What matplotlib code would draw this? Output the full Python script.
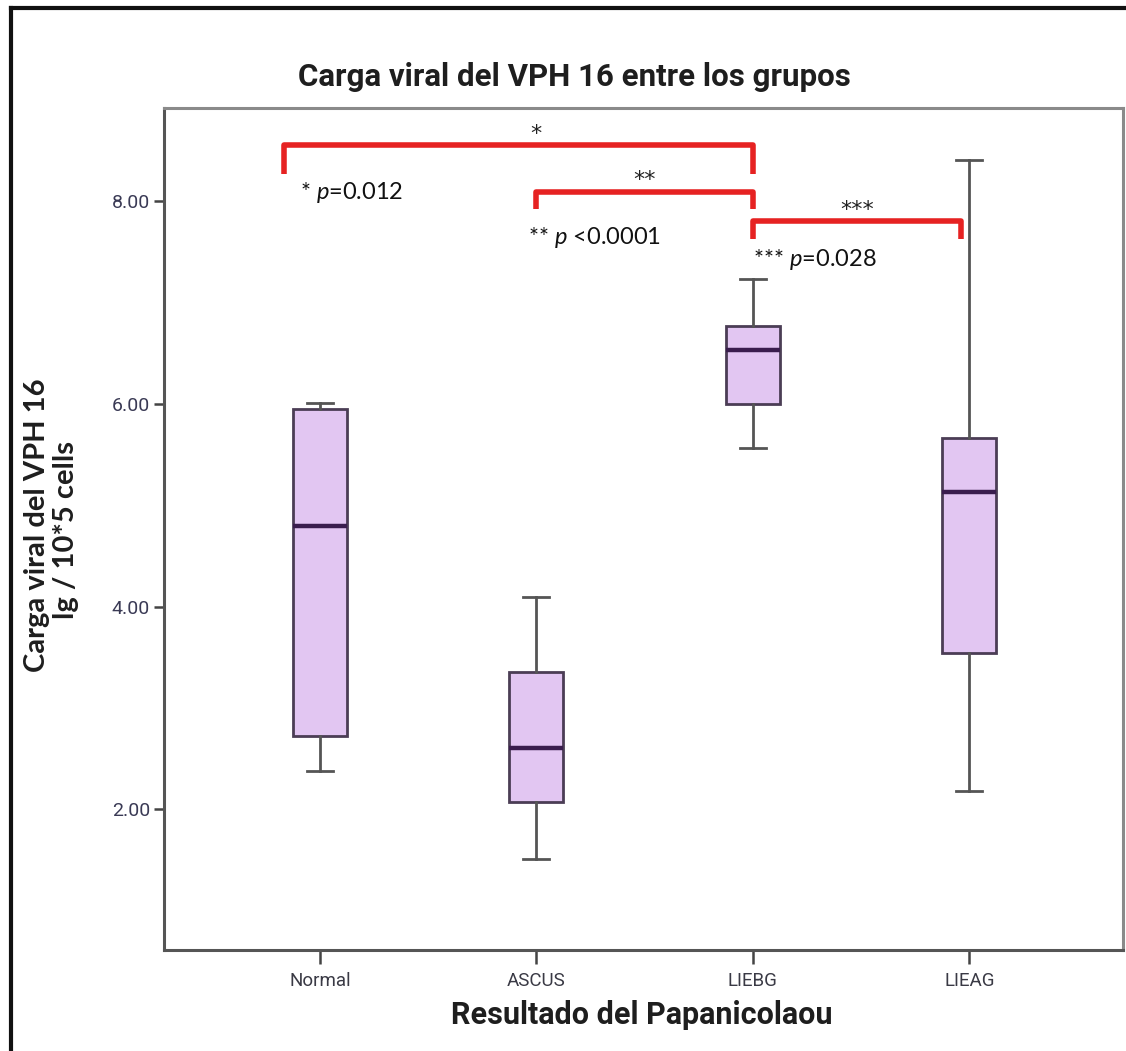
import matplotlib
matplotlib.use("Agg")
import matplotlib.pyplot as plt
from matplotlib.lines import Line2D

# ---- data ----
categories = ["Normal", "ASCUS", "LIEBG", "LIEAG"]
whisker_low = [2.38, 1.51, 5.56, 2.18]
q1 = [2.72, 2.07, 6.00, 3.54]
median = [4.79, 2.60, 6.53, 5.13]
q3 = [5.95, 3.35, 6.77, 5.66]
whisker_high = [6.01, 4.09, 7.23, 8.41]
y_ticks = [2.0, 4.0, 6.0, 8.0]
y_tick_labels = ["2.00", "4.00", "6.00", "8.00"]

plt.rcParams['mathtext.fontset'] = 'custom'
plt.rcParams['mathtext.rm'] = 'Lato'
plt.rcParams['mathtext.it'] = 'Lato:italic'

W, H = 1126, 1051
fig = plt.figure(figsize=(W / 100, H / 100), dpi=100)
fig.patch.set_facecolor('white')

ax = fig.add_axes([164 / W, 1 - 950 / H, (1123 - 164) / W, (950 - 108) / H])

stats = []
for i, c in enumerate(categories):
    stats.append(dict(label=c, whislo=whisker_low[i], q1=q1[i], med=median[i],
                      q3=q3[i], whishi=whisker_high[i], fliers=[]))

pos = list(range(len(categories)))
ax.bxp(stats, positions=pos, widths=0.25, capwidths=0.12, patch_artist=True,
       showfliers=False,
       boxprops=dict(facecolor='#e2c6f2', edgecolor='#4b3d55', linewidth=2),
       medianprops=dict(color='#3a1d4e', linewidth=3.2),
       whiskerprops=dict(color='#555555', linewidth=2),
       capprops=dict(color='#555555', linewidth=2))

ax.set_xlim(-0.72, 3.71)
ax.set_ylim(0.61, 8.92)
ax.set_yticks(y_ticks)
ax.set_yticklabels(y_tick_labels)
ax.set_xticks(pos)
ax.set_xticklabels(categories)

for lbl in ax.get_yticklabels():
    lbl.set_fontfamily('Roboto')
    lbl.set_fontsize(14)
    lbl.set_color('#3a3a55')
for lbl in ax.get_xticklabels():
    lbl.set_fontfamily('Roboto')
    lbl.set_fontsize(13.5)
    lbl.set_color('#3a3a45')

ax.tick_params(axis='y', direction='out', length=7, width=1.8, color='#444444', pad=3)
ax.tick_params(axis='x', direction='out', length=10, width=1.8, color='#444444', pad=6)

for side in ['left', 'bottom']:
    ax.spines[side].set_color('#555555')
    ax.spines[side].set_linewidth(2.2)
for side in ['top', 'right']:
    ax.spines[side].set_color('#8a8a8a')
    ax.spines[side].set_linewidth(2.2)

# significance brackets
red = '#e62222'
def bracket(x0, x1, ytop, ybot):
    ax.plot([x0, x0, x1, x1], [ybot, ytop, ytop, ybot], color=red, lw=4,
            solid_joinstyle='round', solid_capstyle='butt', clip_on=False)

bracket(-0.165, 2.0, 8.55, 8.27)
bracket(1.0, 2.0, 8.09, 7.92)
bracket(2.0, 2.96, 7.80, 7.63)

ann_kw = dict(fontfamily='Lato', fontsize=17, color='#111111')
star_kw = dict(fontfamily='DejaVu Sans', fontsize=16, color='#222222')
ax.text(1.0, 8.66, "*", ha='center', va='center', **star_kw)
ax.text(1.5, 8.21, "**", ha='center', va='center', **star_kw)
ax.text(2.48, 7.91, "***", ha='center', va='center', **star_kw)

ax.text(-0.09, 8.09, r"* $\mathit{p}$=0.012", ha='left', va='center', **ann_kw)
ax.text(0.96, 7.64, r"** $\mathit{p}$ <0.0001", ha='left', va='center', **ann_kw)
ax.text(2.0, 7.42, r"*** $\mathit{p}$=0.028", ha='left', va='center', **ann_kw)

# titles and labels
fig.text(574 / W, 1 - 77 / H, "Carga viral del VPH 16 entre los grupos",
         ha='center', va='center', fontfamily='Roboto', fontweight='bold',
         fontsize=22.5, color='#1e1e1e')
fig.text(642 / W, 1 - 1015 / H, "Resultado del Papanicolaou",
         ha='center', va='center', fontfamily='Roboto', fontweight='bold',
         fontsize=22, color='#1e1e1e')
fig.text(37 / W, 1 - 525 / H, "Carga viral del VPH 16", rotation=90,
         ha='center', va='center', fontfamily='Lato', fontweight='bold',
         fontsize=21, color='#1e1e1e')
fig.text(66 / W, 1 - 530 / H, "lg / 10*5 cells", rotation=90,
         ha='center', va='center', fontfamily='Lato', fontweight='bold',
         fontsize=21, color='#1e1e1e')

# outer frame (left and top)
fig.add_artist(Line2D([11 / W, 11 / W], [0, 1 - 8 / H], transform=fig.transFigure,
                      color='#111111', lw=3))
fig.add_artist(Line2D([11 / W, 1], [1 - 8 / H, 1 - 8 / H], transform=fig.transFigure,
                      color='#111111', lw=3))

fig.savefig("out.png", dpi=100)
